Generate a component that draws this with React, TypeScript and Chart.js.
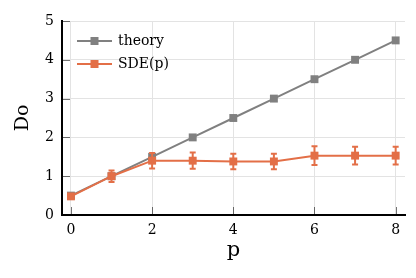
import React, { useEffect, useRef } from "react";
import { Chart, registerables } from "chart.js";

Chart.register(...registerables);

const pValues = [0, 1, 2, 3, 4, 5, 6, 7, 8];
const theory = [0.5, 1.0, 1.5, 2.0, 2.5, 3.0, 3.5, 4.0, 4.5];
const sde = [0.48, 1.0, 1.4, 1.4, 1.38, 1.38, 1.53, 1.53, 1.53];
const sdeErr = [0.03, 0.15, 0.2, 0.21, 0.2, 0.2, 0.24, 0.23, 0.23];
const xTicks = [0, 2, 4, 6, 8];
const yTicks = [0, 1, 2, 3, 4, 5];

const GRAY = "#808080";
const ORANGE = "#E36F47";
const FONT = "DejaVu Serif";

const errorBarPlugin = {
  id: "errorBars",
  afterDatasetsDraw(chart: any) {
    const ctx = chart.ctx;
    const xs = chart.scales.x;
    const ys = chart.scales.y;
    ctx.save();
    ctx.strokeStyle = ORANGE;
    ctx.lineWidth = 2;
    pValues.forEach((p, i) => {
      const x = xs.getPixelForValue(p);
      const yTop = ys.getPixelForValue(sde[i] + sdeErr[i]);
      const yBot = ys.getPixelForValue(sde[i] - sdeErr[i]);
      ctx.beginPath();
      ctx.moveTo(x, yTop);
      ctx.lineTo(x, yBot);
      ctx.moveTo(x - 3, yTop);
      ctx.lineTo(x + 3, yTop);
      ctx.moveTo(x - 3, yBot);
      ctx.lineTo(x + 3, yBot);
      ctx.stroke();
    });
    ctx.restore();
  },
};

const innerTicksPlugin = {
  id: "innerTicks",
  beforeDatasetsDraw(chart: any) {
    const ctx = chart.ctx;
    const xs = chart.scales.x;
    const ys = chart.scales.y;
    const area = chart.chartArea;
    ctx.save();
    ctx.strokeStyle = "rgba(0,0,0,0.55)";
    ctx.lineWidth = 1;
    ctx.beginPath();
    xTicks.forEach((v) => {
      const x = Math.round(xs.getPixelForValue(v)) + 0.5;
      ctx.moveTo(x, area.bottom);
      ctx.lineTo(x, area.bottom - 8);
    });
    yTicks.forEach((v) => {
      const y = Math.round(ys.getPixelForValue(v)) + 0.5;
      ctx.moveTo(area.left, y);
      ctx.lineTo(area.left + 8, y);
    });
    ctx.stroke();
    ctx.restore();
  },
};

const legendPlugin = {
  id: "insideLegend",
  afterDraw(chart: any) {
    const ctx = chart.ctx;
    const area = chart.chartArea;
    const items = [
      { label: chart.data.datasets[1].label, color: GRAY },
      { label: chart.data.datasets[0].label, color: ORANGE },
    ];
    ctx.save();
    items.forEach((it, i) => {
      const y = area.top + 20 + i * 23;
      const x0 = area.left + 15;
      ctx.strokeStyle = it.color;
      ctx.lineWidth = 2;
      ctx.beginPath();
      ctx.moveTo(x0, y);
      ctx.lineTo(x0 + 35, y);
      ctx.stroke();
      ctx.fillStyle = it.color;
      ctx.fillRect(x0 + 17.5 - 4, y - 4, 8, 8);
      ctx.fillStyle = "#000";
      ctx.font = `14px "${FONT}"`;
      ctx.textBaseline = "middle";
      ctx.textAlign = "left";
      ctx.fillText(it.label, x0 + 41, y);
    });
    ctx.restore();
  },
};

export default function App() {
  const ref = useRef<HTMLCanvasElement | null>(null);
  useEffect(() => {
    document.body.style.margin = "0";
    if (!ref.current) return;
    const chart = new Chart(ref.current, {
      type: "line",
      data: {
        datasets: [
          {
            label: "SDE(p)",
            data: pValues.map((p, i) => ({ x: p, y: sde[i] })),
            borderColor: ORANGE,
            backgroundColor: ORANGE,
            borderWidth: 2,
            pointStyle: "rect",
            pointRadius: 5.6,
            pointBorderWidth: 0,
            order: 1,
          },
          {
            label: "theory",
            data: pValues.map((p, i) => ({ x: p, y: theory[i] })),
            borderColor: GRAY,
            backgroundColor: GRAY,
            borderWidth: 2,
            pointStyle: "rect",
            pointRadius: 5.6,
            pointBorderWidth: 0,
            order: 2,
          },
        ],
      },
      options: {
        responsive: false,
        animation: false,
        layout: { padding: { top: 21, right: 11, left: 0, bottom: 0 } },
        plugins: {
          legend: { display: false },
          tooltip: { enabled: false },
        },
        scales: {
          x: {
            type: "linear",
            min: -0.22,
            max: 8.23,
            afterBuildTicks(scale: any) {
              scale.ticks = xTicks.map((v) => ({ value: v }));
            },
            afterFit(scale: any) {
              scale.height = 63;
            },
            grid: { color: "#e3e3e3", drawTicks: false },
            border: { display: true, color: "#000", width: 2 },
            ticks: {
              color: "#000",
              font: { family: FONT, size: 14 },
              padding: 7,
            },
            title: {
              display: true,
              text: "p",
              color: "#000",
              font: { family: FONT, size: 21 },
              padding: { top: 0, bottom: 15 },
            },
          },
          y: {
            type: "linear",
            min: 0,
            max: 5,
            afterBuildTicks(scale: any) {
              scale.ticks = yTicks.map((v) => ({ value: v }));
            },
            afterFit(scale: any) {
              scale.width = 62;
            },
            grid: { color: "#e3e3e3", drawTicks: false },
            border: { display: true, color: "#000", width: 2 },
            ticks: {
              color: "#000",
              font: { family: FONT, size: 14 },
              padding: 8,
            },
            title: {
              display: true,
              text: "Do",
              color: "#000",
              font: { family: FONT, size: 19 },
              padding: { top: 12, bottom: 0 },
            },
          },
        },
      },
      plugins: [innerTicksPlugin, errorBarPlugin, legendPlugin],
    } as any);
    return () => chart.destroy();
  }, []);
  return (
    <div style={{ width: 416, height: 278 }}>
      <canvas ref={ref} width={416} height={278} />
    </div>
  );
}
